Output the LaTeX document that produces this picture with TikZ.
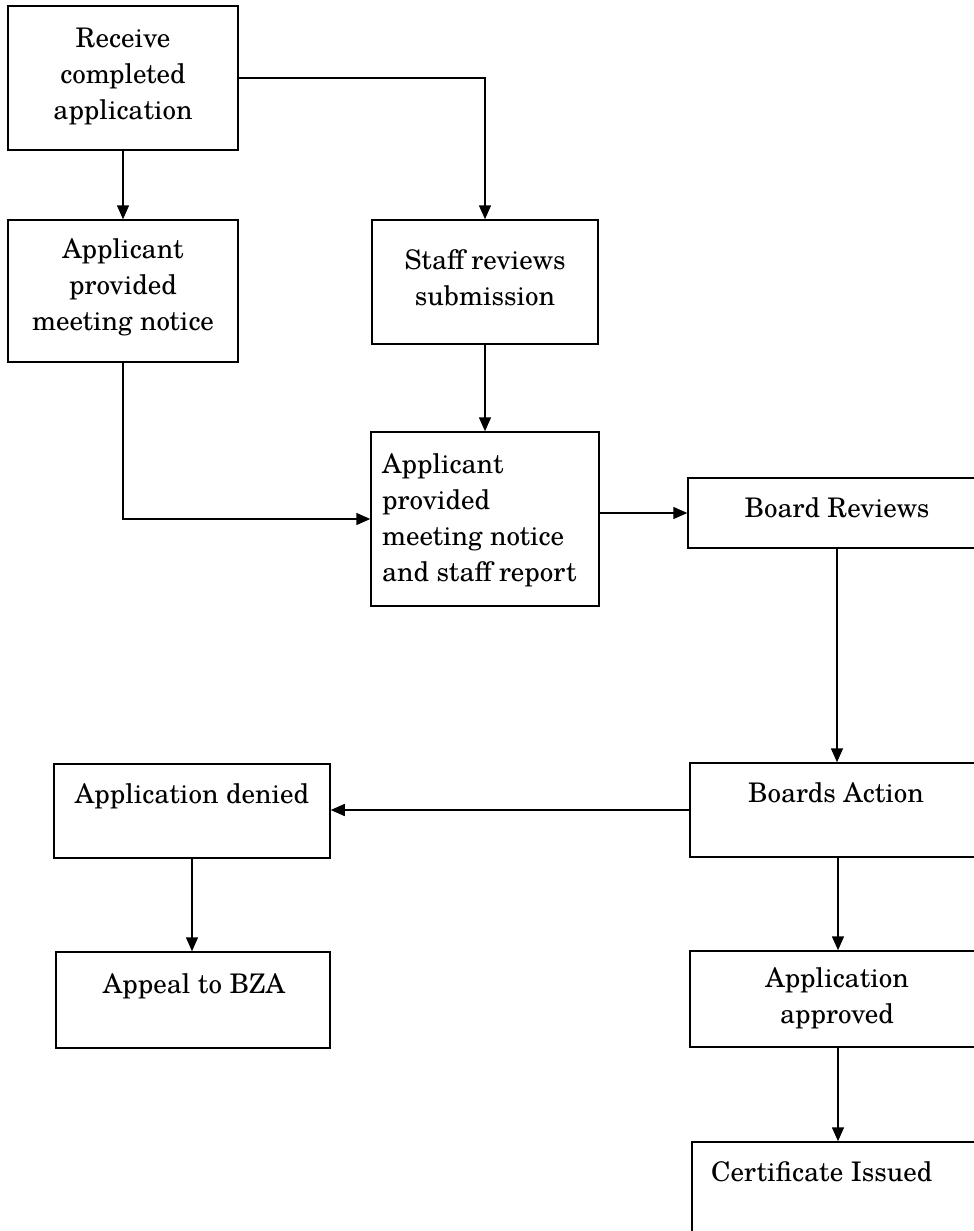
\documentclass[tikz,border=0pt]{standalone}
\usepackage{fontspec}
\setmainfont{TeX Gyre Schola}
\usetikzlibrary{arrows.meta}
\begin{document}
\begin{tikzpicture}[x=1pt,y=-1pt,
  box/.style={draw=black, line width=1.5pt, inner sep=0pt, rectangle},
  txt/.style={inner sep=0pt, align=center, font=\fontsize{27}{36}\selectfont},
  txtl/.style={inner sep=0pt, align=left, font=\fontsize{27}{36}\selectfont},
  arr/.style={draw=black, line width=1.5pt, -{Triangle[length=14pt,width=12pt]}}]
\clip (0,0) rectangle (974,1231);
\fill[white] (0,0) rectangle (974,1231);
% boxes
\node[box, minimum width=230, minimum height=144] (b1) at (123,78) {};
\node[box, minimum width=230, minimum height=142] (b2) at (123,291) {};
\node[box, minimum width=226, minimum height=124] (b3) at (485,282) {};
\node[box, minimum width=228, minimum height=174] (b4) at (485,519) {};
\node[box, minimum width=298, minimum height=70] (b5) at (837,513) {};
\node[box, minimum width=296, minimum height=94] (b6) at (838,810) {};
\node[box, minimum width=276, minimum height=94] (b7) at (192,811) {};
\node[box, minimum width=274, minimum height=96] (b8) at (193,1000) {};
\node[box, minimum width=296, minimum height=96] (b9) at (838,999) {};
\node[box, minimum width=294, minimum height=118] (b10) at (839,1201) {};
% texts
\node[txt] (t1) at (123,76) {Receive\\completed\\application};
\node[txt] (t2) at (123,287) {Applicant\\provided\\meeting notice};
\node[txt] (t3) at (485,278) {Staff reviews\\submission};
\node[txtl, anchor=west] (t4) at (382,520) {Applicant\\provided\\meeting notice\\and staff report};
\node[txt] (t5) at (837,508) {Board Reviews};
\node[txt] (t6) at (836,793) {Boards Action};
\node[txt] (t7) at (192,796) {Application denied};
\node[txt] (t8) at (194,986) {Appeal to BZA};
\node[txt] (t9) at (837,998) {Application\\approved};
\node[txtl, anchor=west] (t10) at (711,1172) {Certificate Issued};
% connectors
\draw[arr] (b1.east) -| (b3.north);
\draw[arr] (b1.south) -- (b2.north);
\draw[arr] (b2.south) |- (b4.west);
\draw[arr] (b3.south) -- (b3.south |- b4.north);
\draw[arr] (b4.east |- b5.west) -- (b5.west);
\draw[arr] (b5.south) -- (b5.south |- b6.north);
\draw[arr] (b6.west) -- (b6.west -| b7.east);
\draw[arr] (b7.south) -- (b7.south |- b8.north);
\draw[arr] (b6.south) -- (b6.south |- b9.north);
\draw[arr] (b9.south) -- (b9.south |- b10.north);
\end{tikzpicture}
\end{document}
